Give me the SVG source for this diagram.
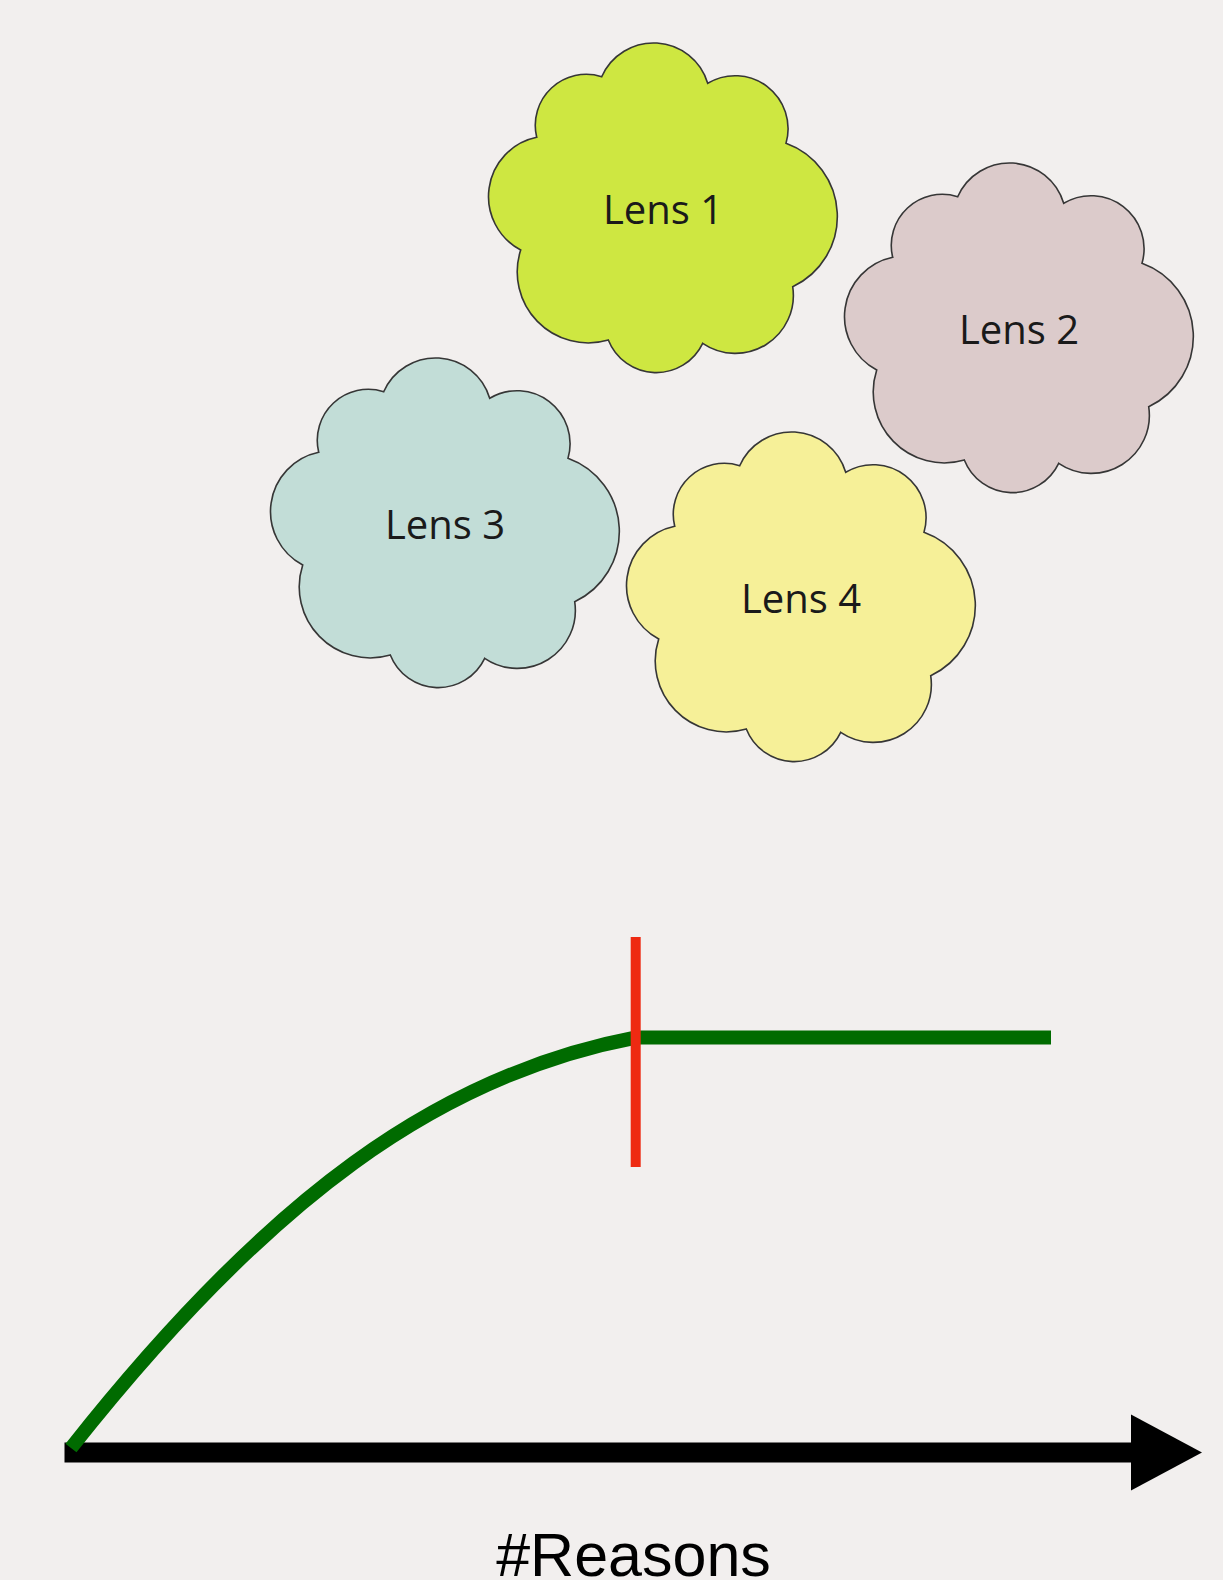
<svg xmlns="http://www.w3.org/2000/svg" width="1223" height="1580" viewBox="0 0 1223 1580">
  <style>
    .cloud { stroke: #363636; stroke-width: 1.6; }
    .lbl { font-family: "Open Sans", "Noto Sans", sans-serif; font-size: 40px; fill: #1a1a1a; text-anchor: middle; }
    .axis-lbl { font-family: "Liberation Sans", Arial, sans-serif; font-size: 61px; fill: #000; text-anchor: middle; }
  </style>
  <defs>
    <path id="cloudShape" d="M48.7,94.3 A51,51 0 0 1 113.7,33.7 A56.6,56.6 0 0 1 219.7,40.3 A53,53 0 0 1 298,100.3 A77.7,77.7 0 0 1 304.7,243.7 A58,58 0 0 1 214.7,300.3 A51.5,51.5 0 0 1 120.3,297 A71,71 0 0 1 32.7,207 A60.5,60.5 0 0 1 48.7,94.3 Z"/>
    <marker id="arrowHead" markerUnits="userSpaceOnUse" markerWidth="72" markerHeight="76" refX="0" refY="38" orient="auto" overflow="visible">
      <path d="M0,0 L71,38 L0,76 Z" fill="#000"/>
    </marker>
  </defs>
  <rect x="0" y="0" width="1223" height="1580" fill="#f2efee"/>

  <g id="lens1" transform="translate(488,43)">
    <use href="#cloudShape" class="cloud" fill="#cee741"/>
    <text class="lbl" x="175" y="181">Lens 1</text>
  </g>
  <g id="lens2" transform="translate(844,163)">
    <use href="#cloudShape" class="cloud" fill="#dccbcb"/>
    <text class="lbl" x="175" y="181">Lens 2</text>
  </g>
  <g id="lens3" transform="translate(270,358)">
    <use href="#cloudShape" class="cloud" fill="#c2ddd7"/>
    <text class="lbl" x="175" y="181">Lens 3</text>
  </g>
  <g id="lens4" transform="translate(626,432)">
    <use href="#cloudShape" class="cloud" fill="#f6f098"/>
    <text class="lbl" x="175" y="181">Lens 4</text>
  </g>

  <g id="connectors">
    <line x1="64.5" y1="1452.5" x2="1131" y2="1452.5" stroke="#000" stroke-width="20" marker-end="url(#arrowHead)"/>
    <path d="M71,1448 C268.8,1197.8 438.3,1075 636,1037.5 L1051,1037.5" fill="none" stroke="#006b00" stroke-width="14"/>
    <line x1="635.7" y1="937" x2="635.7" y2="1167" stroke="#ee2a12" stroke-width="10"/>
  </g>

  <text id="xlabel" class="axis-lbl" x="633.5" y="1576">#Reasons</text>
</svg>
